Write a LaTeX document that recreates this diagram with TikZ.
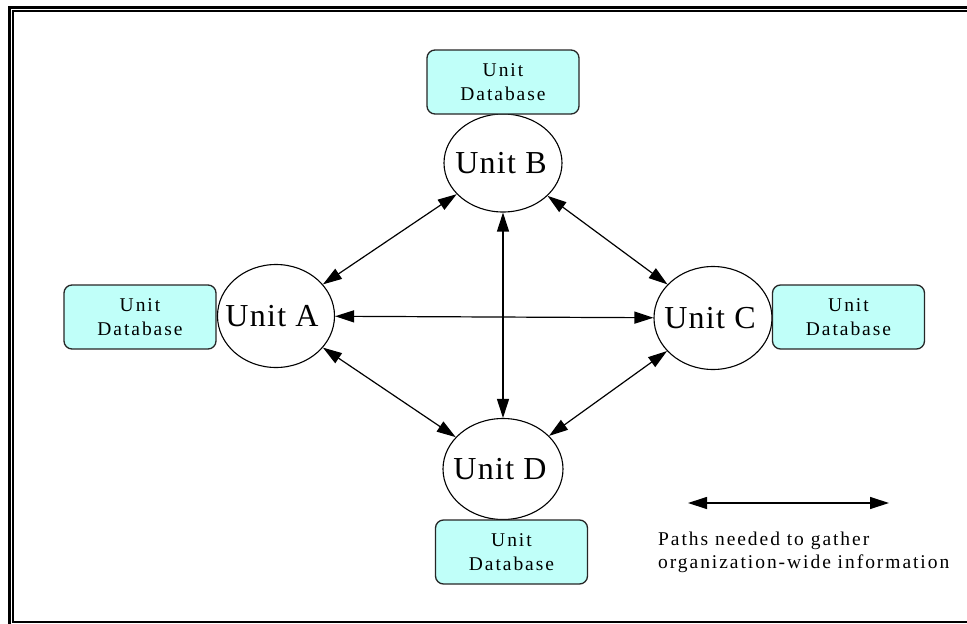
\documentclass[tikz,border=0pt]{standalone}
\usepackage{fontspec}
\setmainfont{Liberation Serif}
\newfontfamily\unitfont[LetterSpace=4]{Liberation Serif}
\newfontfamily\smallfont[LetterSpace=10]{Liberation Serif}
\usetikzlibrary{shapes.geometric,arrows.meta}
\definecolor{dbfill}{RGB}{192,255,249}
\tikzset{
  unitbox/.style={draw, ellipse, line width=1.1pt, inner sep=0pt},
  unittext/.style={font=\unitfont\fontsize{32}{36}\selectfont, inner sep=0pt},
  dbbox/.style={draw=black!85, line width=1.3pt, fill=dbfill, rounded corners=8pt,
    minimum width=152pt, minimum height=64pt, align=center, inner sep=0pt,
    font=\smallfont\fontsize{19.5}{24}\selectfont},
  link/.style={line width=1.2pt, {Triangle[length=19pt,width=12pt]}-{Triangle[length=19pt,width=12pt]}},
}
\begin{document}
\begin{tikzpicture}[x=1pt,y=-1pt]
\useasboundingbox (0,0) rectangle (967,624);
% double frame
\draw[line width=3pt] (9.5,630) -- (9.5,7.5) -- (975,7.5);
\draw[line width=2pt] (975,11) -- (13,11) -- (13,622) -- (975,622);

% units
\node[unitbox, minimum width=117pt, minimum height=103pt] (A) at (276,316) {};
\node[unittext] (At) at (272,316) {Unit A};
\node[unitbox, minimum width=118pt, minimum height=98pt] (B) at (503,163) {};
\node[unittext] (Bt) at (501,163) {Unit B};
\node[unitbox, minimum width=118pt, minimum height=103pt] (C) at (713,318) {};
\node[unittext] (Ct) at (710,318) {Unit C};
\node[unitbox, minimum width=120pt, minimum height=101pt] (D) at (503,469) {};
\node[unittext] (Dt) at (500,469) {Unit D};

% unit databases
\node[dbbox] (dbB) at (503,82) {Unit\\Database};
\node[dbbox] (dbA) at (140,317) {Unit\\Database};
\node[dbbox] (dbC) at (848.5,317) {Unit\\Database};
\node[dbbox] (dbD) at (511.5,552) {Unit\\Database};

% communication paths
\draw[link] (A) -- (B);
\draw[link] (A) -- (C);
\draw[link] (A) -- (D);
\draw[link] (B) -- (C);
\draw[link] (B) -- (D);
\draw[link] (C) -- (D);

% legend
\coordinate (legL) at (688,503);
\coordinate (legR) at (889,503);
\draw[link] (legL) -- (legR);
\node[anchor=base west, align=left, inner sep=0pt,
  font=\smallfont\fontsize{19.5}{23}\selectfont] (legtext) at (658,568)
  {Paths needed to gather\\organization-wide information};
\end{tikzpicture}
\end{document}
